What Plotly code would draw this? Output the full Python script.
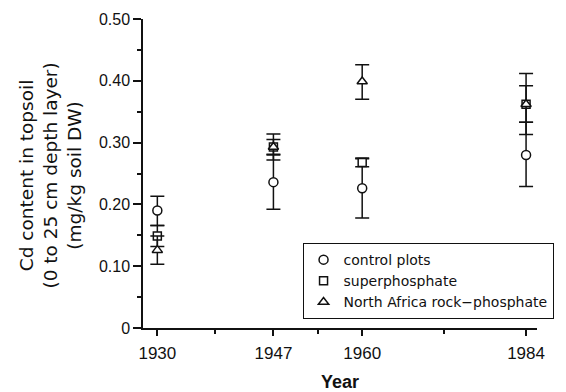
import plotly.graph_objects as go

years = [1930, 1947, 1960, 1984]
year_labels = ["1930", "1947", "1960", "1984"]
minor_years = [1938.5, 1953.5, 1972]

y_ticks = [0, 0.1, 0.2, 0.3, 0.4, 0.5]
y_tick_labels = ["0", "0.10", "0.20", "0.30", "0.40", "0.50"]
y_minor = [0.05, 0.15, 0.25, 0.35, 0.45]

control = [0.190, 0.236, 0.226, 0.280]
control_up = [0.023, 0.044, 0.048, 0.053]
control_dn = [0.024, 0.044, 0.048, 0.051]

superp = [0.149, 0.293, 0.268, 0.362]
superp_up = [0.017, 0.021, 0.007, 0.050]
superp_dn = [0.017, 0.021, 0.007, 0.049]

rock = [0.126, 0.293, 0.399, 0.362]
rock_up = [0.023, 0.012, 0.027, 0.030]
rock_dn = [0.023, 0.012, 0.029, 0.029]

names = ["control plots", "superphosphate", "North Africa rock\u2212phosphate"]
symbols = ["circle", "square", "triangle-up"]
sizes = [9, 8, 9]

ink = "#111111"
fig = go.Figure()
for name, vals, up, dn, sym, sz in zip(
    names, [control, superp, rock], [control_up, superp_up, rock_up],
    [control_dn, superp_dn, rock_dn], symbols, sizes):
    fig.add_trace(go.Scatter(
        x=years, y=vals, mode="markers", name=name,
        marker=dict(symbol=sym, size=sz, color="white", line=dict(color=ink, width=1.5)),
        error_y=dict(type="data", symmetric=False, array=up, arrayminus=dn,
                     color=ink, thickness=1.5, width=7),
    ))

fig.update_layout(
    width=566, height=392,
    margin=dict(l=143, r=18, t=19, b=64),
    paper_bgcolor="white", plot_bgcolor="white",
    font=dict(family="Liberation Sans, Arial, sans-serif", color=ink, size=15),
    showlegend=True,
    legend=dict(x=1.042, xanchor="right", y=0.275, yanchor="top",
                bordercolor=ink, borderwidth=1, bgcolor="white",
                font=dict(family="DejaVu Sans", size=14), itemwidth=30,
                tracegroupgap=0),
    annotations=[dict(
        text="Cd content in topsoil<br>(0 to 25 cm depth layer)<br>(mg/kg soil DW)",
        xref="paper", yref="paper", x=-0.2346, y=0.492,
        xanchor="center", yanchor="middle", textangle=-90, showarrow=False,
        font=dict(family="DejaVu Sans", size=18.5, color=ink),
    )],
)
fig.update_xaxes(
    range=[1927.9, 1985.6], showline=True, linecolor=ink, linewidth=1.5,
    tickmode="array", tickvals=years, ticktext=year_labels,
    ticks="outside", ticklen=6, tickwidth=1.5, tickcolor=ink,
    minor=dict(tickmode="array", tickvals=minor_years, ticks="outside",
               ticklen=4, tickwidth=1.5, tickcolor=ink, showgrid=False),
    showgrid=False, zeroline=False, automargin=False,
    title=dict(text="<b>Year</b>", font=dict(size=18), standoff=17),
    tickfont=dict(family="Liberation Sans", size=17, color=ink), ticklabelstandoff=3,
)
fig.update_yaxes(
    range=[0, 0.5], showline=True, linecolor=ink, linewidth=1.5,
    tickmode="array", tickvals=y_ticks, ticktext=y_tick_labels,
    ticks="outside", ticklen=8, tickwidth=1.5, tickcolor=ink,
    minor=dict(tickmode="array", tickvals=y_minor,
               ticks="outside", ticklen=4, tickwidth=1.5, tickcolor=ink, showgrid=False),
    showgrid=False, zeroline=False, automargin=False,
    tickfont=dict(family="Liberation Sans", size=16, color=ink),
)

fig.write_html("out.html")
